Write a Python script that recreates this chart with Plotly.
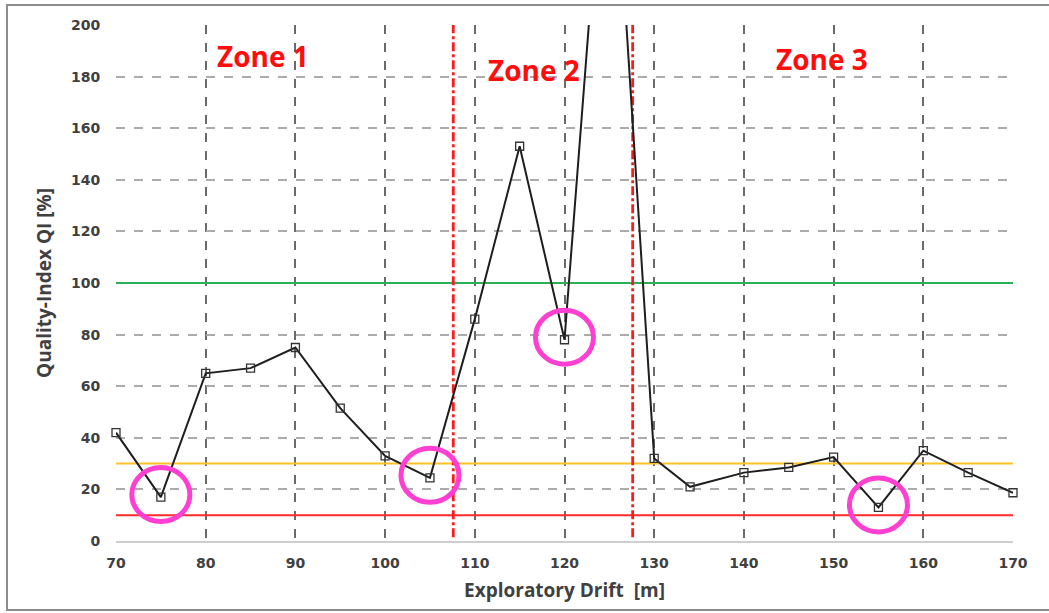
import plotly.graph_objects as go

# Data
drift_m = [70, 75, 80, 85, 90, 95, 100, 105, 110, 115, 120, 125, 130, 134, 140, 145, 150, 155, 160, 165, 170]
quality_index = [42, 17, 65, 67, 75, 51.5, 33, 24.5, 86, 153, 78, 303, 32, 21, 26.5, 28.5, 32.5, 13, 35, 26.5, 18.7]

threshold_levels = [100, 30, 10]
threshold_colors = ["#2bb05a", "#ffc125", "#ff2a2a"]

zone_bounds = [107.6, 127.6]
zone_labels = ["Zone 1", "Zone 2", "Zone 3"]
zone_label_x = [86.4, 116.6, 148.7]
zone_label_y = [188, 182.5, 187]

circled_x = [75, 105, 120, 155]

x_ticks = list(range(70, 171, 10))
y_ticks = list(range(0, 201, 20))

FONT = "Open Sans"
TICKFONT = "DejaVu Sans"

fig = go.Figure()

# threshold lines
for lvl, col in zip(threshold_levels, threshold_colors):
    fig.add_trace(go.Scatter(x=[70, 170], y=[lvl, lvl], mode="lines",
                             line=dict(color=col, width=2), hoverinfo="skip",
                             showlegend=False))

# zone boundaries
for xb in zone_bounds:
    fig.add_trace(go.Scatter(x=[xb, xb], y=[1.5, 200], mode="lines",
                             line=dict(color="#ff1a1a", width=2.8, dash="dashdot"),
                             hoverinfo="skip", showlegend=False))

# main series
fig.add_trace(go.Scatter(x=drift_m, y=quality_index, mode="lines+markers",
                         line=dict(color="#1e1e1e", width=2), cliponaxis=False,
                         marker=dict(symbol="square-open", size=8,
                                     color="#333333", line=dict(width=1.3, color="#333333")),
                         showlegend=False))

shapes = []
# circles around highlighted points
for cx in circled_x:
    cy = quality_index[drift_m.index(cx)] + 1
    shapes.append(dict(type="circle", xref="x", yref="y", xsizemode="pixel", ysizemode="pixel",
                       xanchor=cx, yanchor=cy, x0=-29, x1=29, y0=-27, y1=27,
                       line=dict(color="#ff3fd2", width=5), layer="above"))

# outer frame
shapes.append(dict(type="rect", xref="paper", yref="paper",
                   x0=-0.1215, x1=1.3, y0=-0.1337, y1=1.0388,
                   line=dict(color="#8c8c8c", width=2), layer="below"))

annotations = []
for lab, lx, ly in zip(zone_labels, zone_label_x, zone_label_y):
    annotations.append(dict(x=lx, y=ly, xref="x", yref="y", text="<b>%s</b>" % lab,
                            showarrow=False, font=dict(family=FONT, size=28, color="#ff0d0d")))

fig.update_layout(
    width=1049, height=613,
    margin=dict(l=116, r=36, t=25, b=72),
    paper_bgcolor="white", plot_bgcolor="white",
    shapes=shapes, annotations=annotations,
    font=dict(family=FONT, color="#404040"),
    xaxis=dict(range=[70, 170], tickvals=x_ticks, ticktext=["<b>%d</b>" % v for v in x_ticks],
               showgrid=True, gridcolor="#6a6a6a", griddash="dash", gridwidth=1.5,
               showline=True, linecolor="#cfcfcf", linewidth=2, zeroline=False,
               ticks="outside", ticklen=8, tickcolor="rgba(0,0,0,0)",
               tickfont=dict(family=TICKFONT, size=14, color="#404040"),
               title=dict(text="<b>Exploratory Drift  [m]</b>", font=dict(size=19, color="#404040"),
                          standoff=14)),
    yaxis=dict(range=[0, 200], tickvals=y_ticks, ticktext=["<b>%d</b>" % v for v in y_ticks],
               showgrid=True, gridcolor="#ababab", griddash="dash", gridwidth=1.5,
               zeroline=False, showline=False,
               ticks="outside", ticklen=12, tickcolor="rgba(0,0,0,0)",
               tickfont=dict(family=TICKFONT, size=14, color="#404040"),
               title=dict(text="<b>Quality-Index QI [%]</b>", font=dict(size=19, color="#404040"),
                          standoff=14)),
)

fig.write_html("out.html", config={"displayModeBar": False},
               post_script="document.body.style.margin='0';")
